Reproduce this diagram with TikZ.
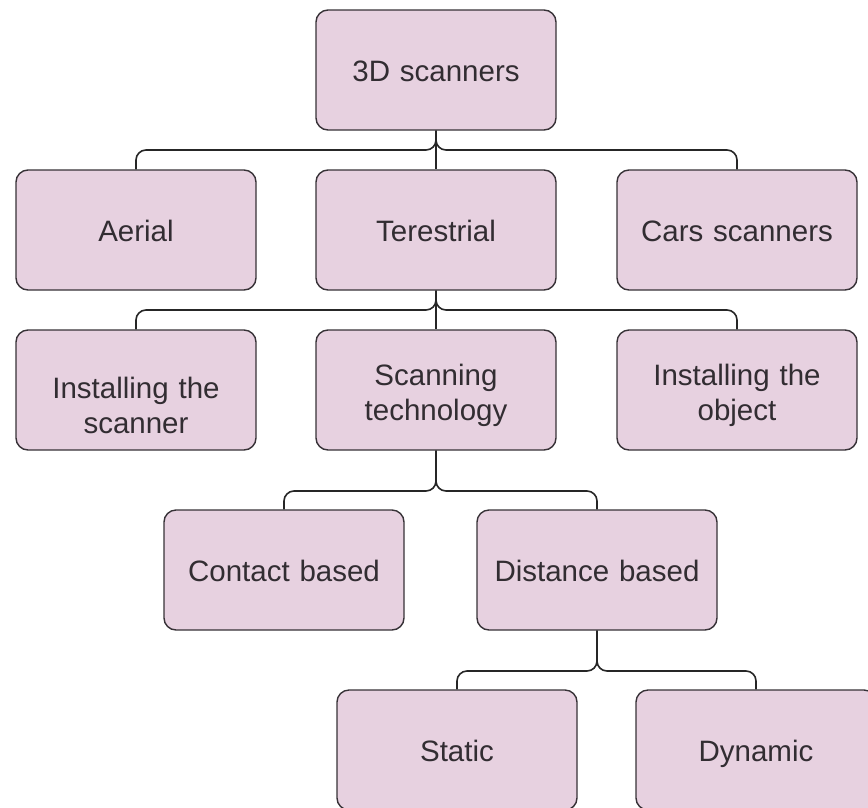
\documentclass[tikz,border=0pt]{standalone}
\usepackage{fontspec}
\setmainfont{Liberation Sans}
\usetikzlibrary{positioning,calc}
\definecolor{BoxFill}{RGB}{231,209,224}
\definecolor{BoxLine}{RGB}{55,50,55}
\definecolor{TextGray}{RGB}{50,45,50}
\tikzset{
  box/.style={rectangle,draw=BoxLine,fill=BoxFill,rounded corners=12pt,line width=1.4pt,
    minimum width=240pt,minimum height=120pt,text width=225pt,align=center,
    text=TextGray,font=\fontsize{29.5}{35}\selectfont},
  oneline/.style={box,text height=24pt,text depth=2pt},
  twoline/.style={box,text height=#1},
  link/.style={draw=black!85,line width=1.6pt,rounded corners=10pt},
}
\begin{document}
\begin{tikzpicture}[x=1pt,y=-1pt]
\useasboundingbox (0,0) rectangle (868,807);
% bus levels
\coordinate (bus1) at (0,150);
\coordinate (bus2) at (0,310);
\coordinate (bus3) at (0,491);
\coordinate (bus4) at (0,671);
% nodes
\node[oneline] (root) at (436,70) {3D scanners};
\node[oneline] (aerial) at (136,230) {Aerial};
\node[oneline] (terr) at (436,230) {Terestrial};
\node[oneline] (cars) at (737,230) {Cars scanners};
\node[twoline=52pt] (instscan) at (136,390) {Installing the\\scanner};
\node[twoline=32pt] (scantech) at (436,390) {Scanning\\technology};
\node[twoline=32pt] (instobj) at (737,390) {Installing the\\object};
\node[oneline] (contact) at (284,570) {Contact based};
\node[oneline] (distance) at (597,570) {Distance based};
\node[oneline] (static) at (457,750) {Static};
\node[oneline] (dynamic) at (756,750) {Dynamic};
% connectors
\draw[link] (root.south) -- (terr.north);
\draw[link] (root.south) |- (bus1 -| aerial) -- (aerial.north);
\draw[link] (root.south) |- (bus1 -| cars) -- (cars.north);
\draw[link] (terr.south) -- (scantech.north);
\draw[link] (terr.south) |- (bus2 -| instscan) -- (instscan.north);
\draw[link] (terr.south) |- (bus2 -| instobj) -- (instobj.north);
\draw[link] (scantech.south) |- (bus3 -| contact) -- (contact.north);
\draw[link] (scantech.south) |- (bus3 -| distance) -- (distance.north);
\draw[link] (distance.south) |- (bus4 -| static) -- (static.north);
\draw[link] (distance.south) |- (bus4 -| dynamic) -- (dynamic.north);
\end{tikzpicture}
\end{document}
